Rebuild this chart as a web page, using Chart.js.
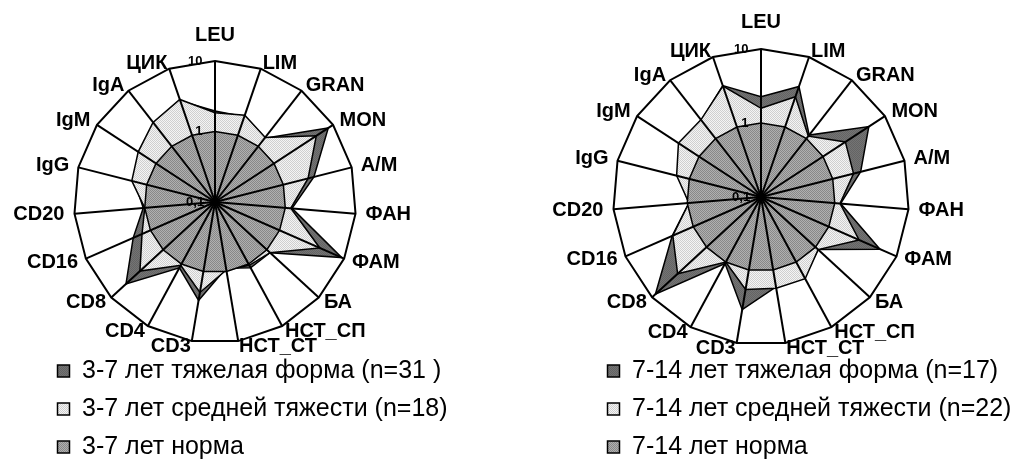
<!DOCTYPE html>
<html>
<head>
<meta charset="utf-8">
<script src="https://cdn.jsdelivr.net/npm/chart.js@4.4.1/dist/chart.umd.min.js"></script>
<style>
  html, body { margin: 0; padding: 0; background: #fff; }
  #wrap { position: relative; width: 1028px; height: 473px; overflow: hidden; }
  canvas { position: absolute; top: 0; }
  #young { left: 0; }
  #older { left: 514px; }
</style>
</head>
<body>
<div id="wrap">
  <canvas id="young" width="514" height="473"></canvas>
  <canvas id="older" width="514" height="473"></canvas>
</div>
<script>
// Immune / phagocytosis indicators, clockwise from the top
const indicators = ['LEU', 'LIM', 'GRAN', 'MON', 'A/M', 'ФАН', 'ФАМ', 'БА', 'НСТ_СП', 'НСТ_СТ',
                    'CD3', 'CD4', 'CD8', 'CD16', 'CD20', 'IgG', 'IgM', 'IgA', 'ЦИК'];

// Values relative to the age norm (norm = 1)
const severe3to7   = [1.95, 1.9, 1.4, 8.3, 2.8, 1.25, 9.2, 1.15, 1.15, 0.9, 2.6, 1.15, 5.2, 1.85, 1.05, 1.5, 1.9, 2.4, 3.3];
const moderate3to7 = [1.85, 2.0, 1.45, 5.2, 2.3, 1.2, 4.2, 1.15, 1.05, 0.95, 2.0, 1.05, 2.8, 1.35, 1.0, 1.65, 2.0, 2.7, 3.45];
const norm3to7     = [1, 1, 1, 1, 1, 1, 1, 1, 1, 1, 1, 1, 1, 1, 1, 1, 1, 1, 1];

const severe7to14   = [2.27, 3.8, 1.15, 5.5, 2.45, 1.2, 5.7, 1.12, 1.7, 1.7, 3.5, 1.05, 8.7, 2.05, 0.95, 1.4, 2.1, 2.05, 3.9];
const moderate7to14 = [1.58, 2.7, 1.1, 2.3, 1.95, 1.18, 2.8, 1.12, 1.8, 1.78, 1.85, 1.0, 3.4, 2.0, 0.95, 1.5, 2.15, 2.1, 3.85];
const norm7to14     = [1, 1, 1, 1, 1, 1, 1, 1, 1, 1, 1, 1, 1, 1, 1, 1, 1, 1, 1];

// Logarithmic radial axis: 0,1 – 1 – 10
const tickValues = [0.1, 1, 10];
const tickLabels = ['0,1', '1', '10'];
const tickShift  = [11, 9, 11];   // trailing gaps push the labels left of the vertical spoke

const legend3to7  = ['3-7 лет тяжелая форма (n=31 )', '3-7 лет средней тяжести (n=18)', '3-7 лет норма'];
const legend7to14 = ['7-14 лет тяжелая форма (n=17)', '7-14 лет средней тяжести (n=22)', '7-14 лет норма'];

const FONT = "'Liberation Sans', Arial, sans-serif";

// Halftone-like fills
function halftone(ctx, light, dark) {
  const tile = document.createElement('canvas');
  tile.width = tile.height = 2;
  const g = tile.getContext('2d');
  g.fillStyle = light; g.fillRect(0, 0, 2, 2);
  g.fillStyle = dark;  g.fillRect(0, 0, 1, 1); g.fillRect(1, 1, 1, 1);
  return ctx.createPattern(tile, 'repeat');
}

// Places the legend block at a fixed spot inside the canvas
const legendAnchor = {
  id: 'legendAnchor',
  afterLayout(chart, args, opts) {
    const lg = chart.legend;
    if (!lg || opts.left == null) return;
    lg.left = opts.left;
    lg.top = opts.top;
    lg.right = chart.width;
    lg.bottom = chart.height;
    lg.width = lg.right - lg.left;
    lg.height = lg.bottom - lg.top;
  }
};

function tickText(v) {
  const i = tickValues.findIndex(t => Math.abs(Math.log10(t) - v) < 1e-6);
  if (i < 0) return '';
  return tickLabels[i] + '\u00a0'.repeat(tickShift[i]);
}

// Labels near the top and bottom sit a little closer to the outer ring
function labelGap(index, topPad) {
  if (index === 0) return topPad;
  const a = 2 * Math.PI * index / indicators.length;
  return 4 - 5 * Math.abs(Math.cos(a));
}

function radar(id, series, names, opt) {
  const ctx = document.getElementById(id).getContext('2d');
  const fills = [
    halftone(ctx, '#747474', '#646464'),
    halftone(ctx, '#f4f4f4', '#cfcfcf'),
    halftone(ctx, '#b0b0b0', '#888888')
  ];
  const datasets = series.map((vals, k) => ({
    label: names[k],
    data: vals.map(v => Math.log10(v)),
    backgroundColor: fills[k],
    borderColor: '#000',
    borderWidth: 1.5,
    pointRadius: 0,
    fill: 'start',
    order: 3 - k
  }));
  return new Chart(ctx, {
    type: 'radar',
    data: { labels: indicators, datasets },
    options: {
      responsive: false,
      animation: false,
      devicePixelRatio: 1,
      layout: { padding: opt.padding },
      elements: { line: { tension: 0 } },
      scales: {
        r: {
          min: -1,
          max: 1,
          ticks: {
            z: 2,
            stepSize: 1,
            showLabelBackdrop: false,
            backdropPadding: 0,
            color: '#000',
            font: { family: FONT, size: 13, weight: 'bold' },
            callback: tickText
          },
          grid: {
            z: 1,
            color: c => (c.tick && c.tick.value === 1 ? '#000' : 'rgba(0,0,0,0)'),
            lineWidth: 2
          },
          angleLines: { color: '#000', lineWidth: 2 },
          pointLabels: {
            color: '#000',
            font: { family: FONT, size: 20, weight: 'bold', lineHeight: 0 },
            padding: c => labelGap(c.index, opt.topPad)
          }
        }
      },
      plugins: {
        tooltip: { enabled: false },
        legend: {
          position: 'chartArea',
          align: 'start',
          labels: {
            boxWidth: 12,
            boxHeight: 12,
            padding: 13,
            color: '#000',
            font: { family: FONT, size: 25 },
            sort: (a, b) => a.datasetIndex - b.datasetIndex
          }
        },
        legendAnchor: opt.legend
      }
    },
    plugins: [legendAnchor]
  });
}

radar('young', [severe3to7, moderate3to7, norm3to7], legend3to7, {
  padding: { left: 0, right: 88, top: 26, bottom: 113 },
  topPad: 19.5,
  legend: { left: 44.5, top: 345.5 }
});

radar('older', [severe7to14, moderate7to14, norm7to14], legend7to14, {
  padding: { left: 0, right: 20, top: 12, bottom: 111 },
  topPad: 20.5,
  legend: { left: 80.5, top: 345.5 }
});
</script>
</body>
</html>
